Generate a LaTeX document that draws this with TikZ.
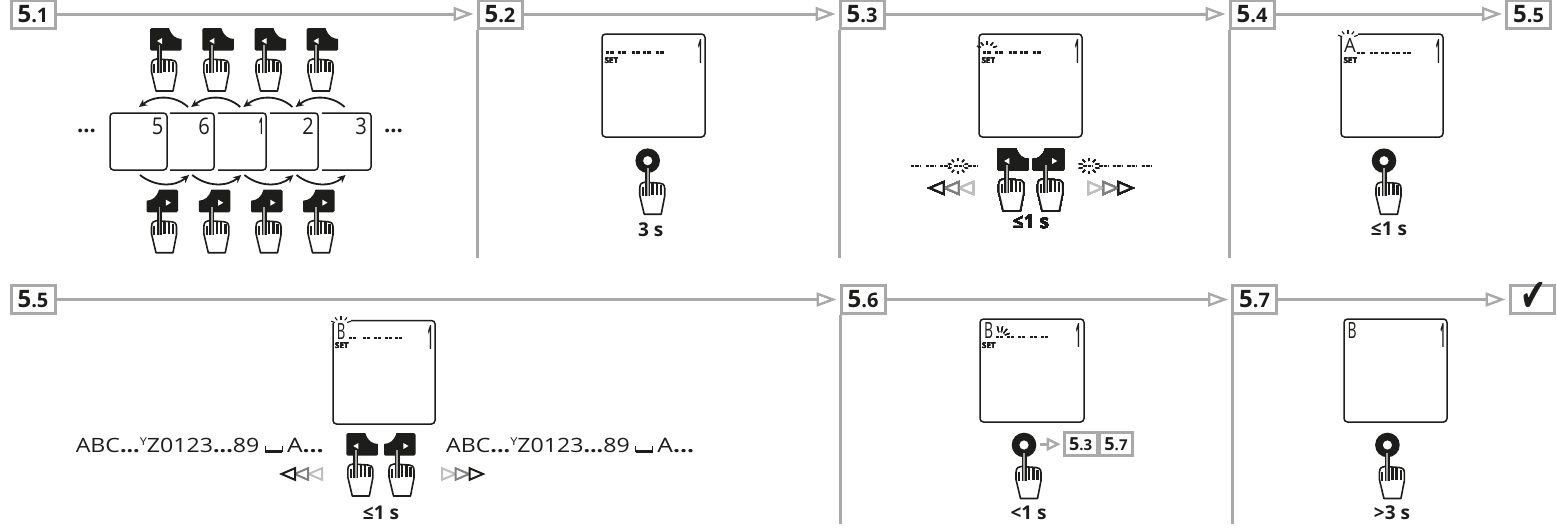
\documentclass[tikz,border=0pt]{standalone}
\usepackage{fontspec}
\usepackage{graphicx}
\usetikzlibrary{arrows.meta,calc}
\setmainfont{Open Sans}
\newfontfamily\lcdfont{Open Sans}
\newfontfamily\tickfont{DejaVu Sans}
\definecolor{flowgray}{HTML}{A9A9A9}
\definecolor{ink}{HTML}{1D1D1B}
\tikzset{
  x=1pt,y=-1pt,
  stepbox/.style={draw=flowgray,line width=3pt,fill=white,minimum width=44pt,minimum height=28pt,inner sep=0pt,text=ink,font=\bfseries},
  flow/.style={draw=flowgray,line width=3pt,-{Triangle[length=20pt,width=14pt,fill=white,line width=2.4pt]},shorten >=3pt},
  rule/.style={draw=flowgray,line width=3pt},
  lcd/.style={draw=ink,line width=1.5pt,rounded corners=3.5pt,fill=white},
  timing/.style={font=\bfseries\fontsize{19}{19}\selectfont,text=ink,inner sep=0pt},
  seg/.style={inner sep=0pt,text=ink,font=\lcdfont},
  set/.style={inner sep=0pt,text=ink,font=\bfseries\fontsize{8}{8}\selectfont},
  rayline/.style={draw=ink,line width=1.1pt},
  swing/.style={draw=ink,line width=1.8pt,-{Stealth[length=8pt,width=7.5pt]}},
  ldots/.style={inner sep=0pt,text=ink,font=\bfseries\fontsize{22}{22}\selectfont},
}
\newcommand{\steplab}[2]{{\fontsize{24}{24}\selectfont #1}{\fontsize{20}{20}\selectfont .#2}}
\newcommand{\smalllab}[2]{{\fontsize{18}{18}\selectfont #1}{\fontsize{15}{15}\selectfont .#2}}
\newcommand{\fitted}[3]{\resizebox{#1pt}{#2pt}{#3}}
\newcommand{\lcdone}{\resizebox{5pt}{24pt}{\bfseries 1}}
\newcommand{\seqtext}{ABC{\bfseries...}\raisebox{0.33em}{\scalebox{0.55}{Y}}Z0123{\bfseries...}89}
% hand: origin at finger tip
\newcommand{\hand}[2]{\begin{scope}[shift={(#1,#2)}]
  \draw[ink,line width=1.6pt,fill=white,line join=round] (-3,14) .. controls (-5,14) and (-8,15) .. (-8,20) -- (-8,27) -- (-3.5,46) -- (13.5,46) -- (17,28) -- (17,20) .. controls (17,16) and (14,15) .. (12,15) -- cycle;
  \draw[ink,line width=2pt] (-5.2,19) -- (-5.2,28);
  \foreach \fx/\ft in {5/14.5,9.3/15,13.4/17} \draw[ink,line width=2.6pt] (\fx,\ft) -- (\fx,27);
  \draw[ink,line width=5pt] (0,0) -- (0,28);
  \draw[black!35,line width=1.9pt] (0,0) -- (0,28);
\end{scope}}
\newcommand{\btnL}[2]{\begin{scope}[shift={(#1,#2)}]
  \fill[ink] (-8,-17) -- (9.5,-17) .. controls (12,-9) and (16,-6.5) .. (22,-6) -- (22,4.5) .. controls (22,5.5) and (21.5,5.7) .. (20.5,5.7) -- (-8,5.7) .. controls (-9,5.7) and (-9.5,5.2) .. (-9.5,4.2) -- (-9.5,-15.5) .. controls (-9.5,-16.5) and (-9,-17) .. (-8,-17) -- cycle;
  \fill[white] (-2.5,-4) -- (2.6,-7) -- (2.6,-1) -- cycle;
\end{scope}}
\newcommand{\btnR}[2]{\begin{scope}[shift={(#1,#2)},shift={(9,0)},xscale=-1]
  \fill[ink] (-8,-17) -- (9.5,-17) .. controls (12,-9) and (16,-6.5) .. (22,-6) -- (22,4.5) .. controls (22,5.5) and (21.5,5.7) .. (20.5,5.7) -- (-8,5.7) .. controls (-9,5.7) and (-9.5,5.2) .. (-9.5,4.2) -- (-9.5,-15.5) .. controls (-9.5,-16.5) and (-9,-17) .. (-8,-17) -- cycle;
  \fill[white] (-2.5,-4) -- (2.6,-7) -- (2.6,-1) -- cycle;
\end{scope}}
\newcommand{\donut}[2]{\fill[ink,even odd rule] (#1,#2) circle (12.3) (#1,#2) circle (4.7);
  \hand{#1}{#2+7.5}}
% dash groups
\newcommand{\dashgroup}[3]{\draw[ink,line width=2.4pt,dash pattern=on 3.4pt off 1pt] (#1,#2) -- ++(#3,0);}
\newcommand{\dashes}[2]{\foreach \dx in {0,11.7,25.7,36.7,49.7} \dashgroup{#1+\dx}{#2}{7.8}}
% rays, full ring / upper arc
\newcommand{\raysfull}[4]{\foreach \a in {18,54,...,342} \draw[rayline] ($(#1,#2)+(\a:#3 and #4)$) -- ($(#1,#2)+(\a:#3*1.5 and #4*1.55)$);}
\newcommand{\raystop}[2]{\foreach \a in {-160,-125,-90,-55,-20} \draw[rayline] ($(#1,#2)+(\a:6.5 and 4.5)$) -- ($(#1,#2)+(\a:10.5 and 8)$);}
\newcommand{\raysright}[2]{\foreach \a in {-105,-75,-45,-15} \draw[rayline] ($(#1,#2)+(\a:5 and 4)$) -- ($(#1,#2)+(\a:10 and 10)$);}
\newcommand{\triL}[3]{\draw[#3,line width=2pt,line join=miter,fill=white] (#1,#2) -- ++(13.5,-5.8) -- ++(0,11.6) -- cycle;}
\newcommand{\triR}[3]{\draw[#3,line width=2pt,line join=miter,fill=white] (#1,#2) -- ++(-13.5,-5.8) -- ++(0,11.6) -- cycle;}
\begin{document}
\begin{tikzpicture}
\useasboundingbox (0,0) rectangle (1557,528);
\fill[white] (0,0) rectangle (1557,528);

% ---- step boxes
\node[stepbox] (s51) at (33,14) {\steplab{5}{1}};
\node[stepbox] (s52) at (500,14) {\steplab{5}{2}};
\node[stepbox] (s53) at (862,14) {\steplab{5}{3}};
\node[stepbox] (s54) at (1252,14) {\steplab{5}{4}};
\node[stepbox] (s55) at (1528.5,14) {\steplab{5}{5}};
\node[stepbox] (r55) at (33,299.5) {\steplab{5}{5}};
\node[stepbox] (r56) at (863,299.5) {\steplab{5}{6}};
\node[stepbox] (r57) at (1254.5,299.5) {\steplab{5}{7}};
\node[stepbox] (done) at (1532,299.5) {};
\node[inner sep=0pt,text=ink,font=\tickfont] (tick) at (1533,296.5) {\resizebox{26pt}{29pt}{✔}};

% ---- connectors
\draw[flow] (s51) -- (s52);
\draw[flow] (s52) -- (s53);
\draw[flow] (s53) -- (s54);
\draw[flow] (s54) -- (s55);
\draw[flow] (r55) -- (r56);
\draw[flow] (r56) -- (r57);
\draw[flow] (r57) -- (done);
\coordinate (v1) at (477.5,258);
\coordinate (v2) at (839.5,258);
\coordinate (v3) at (1229.5,258);
\coordinate (v4) at (840.5,524);
\coordinate (v5) at (1232,524);
\draw[rule] (s52.south west -| v1) -- (v1);
\draw[rule] (s53.south west -| v2) -- (v2);
\draw[rule] (s54.south west -| v3) -- (v3);
\draw[rule] (r56.south west -| v4) -- (v4);
\draw[rule] (r57.south west -| v5) -- (v5);

% ---- 5.1
\draw[lcd] (110,113) rectangle (167,170);
\foreach \xa/\xb in {170/214,218/266,270/318,322/371}{
  \draw[ink,line width=1.5pt,rounded corners=3pt] (\xa,113) -- (\xb,113) -- (\xb,170) -- (\xa,170);
}
\node[seg] (d5) at (157.5,126.5) {\fitted{11.5}{16.5}{5}};
\node[seg] (d6) at (204,126.5) {\fitted{11.5}{16.5}{6}};
\node[seg] (d1) at (261,126.5) {\fitted{4.5}{16.5}{\bfseries 1}};
\node[seg] (d2) at (308,126.5) {\fitted{11.5}{16.5}{2}};
\node[seg] (d3) at (361,126.5) {\fitted{11.5}{16.5}{3}};
\node[ldots] (dl) at (86.5,131) {...};
\node[ldots] (dr) at (393.5,131) {...};
\foreach \fx in {159.5,211.8,264,316}{
  \btnL{\fx}{45}
  \hand{\fx}{45}
  \btnR{\fx}{206.7}
  \hand{\fx}{206.7}
}
\foreach \k in {0,52.2,104.4,156.6}{
  \draw[swing] (188+\k,107) .. controls (175+\k,95) and (155+\k,95) .. (139+\k,107);
  \draw[swing] (140+\k,175) .. controls (155+\k,187) and (175+\k,187) .. (189+\k,175);
}

% ---- 5.2
\draw[lcd] (602,34) rectangle (705,137);
\dashes{606}{52.3}
\node[set,anchor=west] (set2) at (604.5,60.5) {SET};
\node[seg] (n2) at (700,51) {\lcdone};
\donut{647.7}{160.7}
\node[timing] (t2) at (650.7,230) {3 s};

% ---- 5.3
\draw[lcd] (979,34) rectangle (1082,137);
\dashes{983}{52.3}
\raystop{987}{49}
\node[set,anchor=west] (set3) at (981.5,60.5) {SET};
\node[seg] (n3) at (1077,51) {\lcdone};
\foreach \x in {910.7,925.7,940,954.3,968.3} \dashgroup{\x}{166}{10}
\raysfull{958}{166}{7}{5}
\foreach \x in {1083.3,1099.3,1112.7,1127.3,1141.7} \dashgroup{\x}{166}{10}
\raysfull{1089}{166}{7}{5}
\triL{959.5}{188}{black!25}\triL{945}{188}{black!50}\triL{930}{188}{ink}
\triR{1102}{188}{black!25}\triR{1117}{188}{black!50}\triR{1132}{188}{ink}
\btnL{1006.7}{165}\hand{1006.7}{165}
\btnR{1045.7}{165}\hand{1045.7}{165}
\node[timing] (t3) at (1031,221.7) {≤1 s};

% ---- 5.4
\draw[lcd] (1341,34) rectangle (1443,137);
\fill[white] (1339,32) rectangle (1358,36);
\raystop{1348}{38}
\node[seg] (a4) at (1350,45) {\fitted{11.7}{14}{A}};
\foreach \dx in {0,13,24,35,46}\dashgroup{1357+\dx}{53}{8}
\node[set,anchor=west] (set4) at (1343.5,60.5) {SET};
\node[seg] (n4) at (1438,51) {\lcdone};
\donut{1384}{160.7}
\node[timing] (t4) at (1389,229) {≤1 s};

% ---- 5.5 (row two)
\draw[lcd] (333,320.5) rectangle (435,424);
\fill[white] (331,318) rectangle (351,322.5);
\raystop{341}{324}
\node[seg] (b5) at (341,331) {\fitted{8.5}{16}{B}};
\foreach \dx in {0,14,25,36,46}\dashgroup{349+\dx}{338}{7}
\node[set,anchor=west] (set5) at (335,346) {SET};
\node[seg] (n5) at (430,337) {\lcdone};
\node[seg] (q1) at (167.6,445) {\fitted{183.6}{14.3}{\seqtext}};
\draw[ink,line width=1.3pt] (265.4,446) -- (265.4,451.5) -- (282.4,451.5) -- (282.4,446);
\fill[ink] (265.4,450) rectangle (282.4,452.5);
\node[seg] (q2) at (305.4,445) {\fitted{36.7}{14.3}{A{\bfseries...}}};
\node[seg] (q3) at (538,445) {\fitted{183.6}{14.3}{\seqtext}};
\draw[ink,line width=1.3pt] (635.8,446) -- (635.8,451.5) -- (652.8,451.5) -- (652.8,446);
\fill[ink] (635.8,450) rectangle (652.8,452.5);
\node[seg] (q4) at (675.8,445) {\fitted{36.7}{14.3}{A{\bfseries...}}};
\triL{308.5}{474}{black!25}\triL{294.5}{474}{black!50}\triL{281.5}{474}{ink}
\triR{455.5}{474}{black!25}\triR{469}{474}{black!50}\triR{483}{474}{ink}
\btnL{355.8}{450}\hand{355.8}{450}
\btnR{397}{450}\hand{397}{450}
\node[timing] (t5) at (381,512.7) {≤1 s};

% ---- 5.6
\draw[lcd] (980,319) rectangle (1084,422);
\node[seg] (b6) at (988.5,330) {\fitted{9}{16}{B}};
\foreach \dx in {0,11,22,34,45}\dashgroup{996+\dx}{337}{7}
\raysright{1000}{336}
\node[set,anchor=west] (set6) at (982,345.5) {SET};
\node[seg] (n6) at (1078,335) {\lcdone};
\donut{1024}{445}
\node[timing] (t6) at (1028.6,513) {<1 s};
\node[stepbox,minimum width=33pt,minimum height=23pt] (b53) at (1080.7,444.2) {\smalllab{5}{3}};
\node[stepbox,minimum width=33pt,minimum height=23pt] (b57) at (1116,444.2) {\smalllab{5}{7}};
\coordinate (back) at (1040,444.2);
\draw[draw=flowgray,line width=3pt,-{Triangle[length=14pt,width=13pt,fill=white,line width=2.4pt]},shorten >=2pt] (back) -- (b53);

% ---- 5.7
\draw[lcd] (1344,319) rectangle (1447,422);
\node[seg] (b7) at (1352,330) {\fitted{9}{16}{B}};
\node[seg] (n7) at (1442.6,335) {\lcdone};
\donut{1387.4}{445}
\node[timing] (t7) at (1392,513) {>3 s};
\end{tikzpicture}
\end{document}
